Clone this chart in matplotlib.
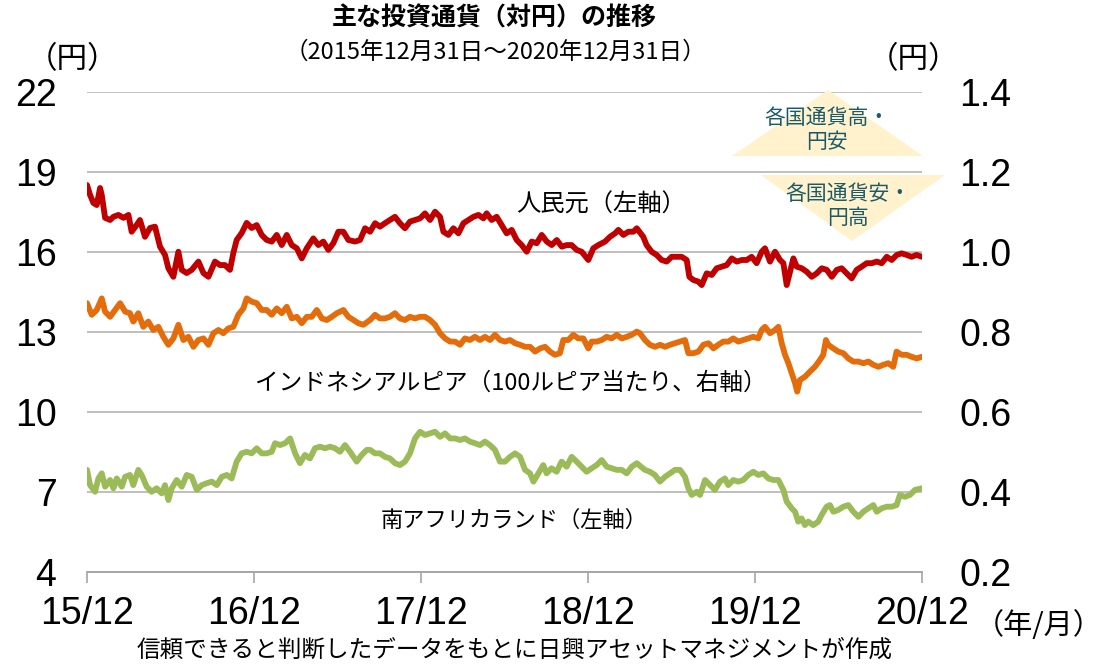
import matplotlib
matplotlib.use("Agg")
import matplotlib.pyplot as plt
from matplotlib.patches import Polygon

plt.rcParams['font.family'] = ['Liberation Sans', 'Noto Sans CJK JP', 'DejaVu Sans']
JP = ['Noto Sans CJK JP', 'DejaVu Sans']

# years elapsed since 2015/12/31
t_cny = [0.000, 0.018, 0.038, 0.058, 0.078, 0.088, 0.108, 0.138, 0.158, 0.188, 0.218, 0.248, 0.267,
         0.297, 0.317, 0.347, 0.377, 0.407, 0.437, 0.467, 0.487, 0.517, 0.547, 0.567, 0.597, 0.627,
         0.667, 0.697, 0.727, 0.766, 0.796, 0.826, 0.856, 0.876, 0.896, 0.926, 0.956, 0.986, 1.016,
         1.046, 1.076, 1.106, 1.136, 1.166, 1.196, 1.226, 1.256, 1.286, 1.316, 1.355, 1.385, 1.415,
         1.445, 1.475, 1.505, 1.535, 1.565, 1.605, 1.635, 1.665, 1.695, 1.725, 1.754, 1.784, 1.814,
         1.844, 1.874, 1.904, 1.934, 1.964, 1.994, 2.024, 2.054, 2.084, 2.114, 2.134, 2.164, 2.194,
         2.224, 2.254, 2.284, 2.314, 2.344, 2.374, 2.393, 2.423, 2.453, 2.483, 2.513, 2.543, 2.573,
         2.603, 2.633, 2.663, 2.693, 2.723, 2.753, 2.783, 2.813, 2.843, 2.873, 2.902, 2.932, 2.962,
         3.002, 3.032, 3.062, 3.102, 3.132, 3.162, 3.182, 3.212, 3.242, 3.272, 3.292, 3.331, 3.351,
         3.381, 3.411, 3.441, 3.471, 3.501, 3.531, 3.561, 3.591, 3.607, 3.631, 3.661, 3.681, 3.711,
         3.741, 3.771, 3.801, 3.831, 3.861, 3.891, 3.921, 3.951, 3.980, 4.010, 4.040, 4.060, 4.090,
         4.120, 4.150, 4.170, 4.190, 4.210, 4.230, 4.250, 4.280, 4.310, 4.340, 4.370, 4.400, 4.430,
         4.460, 4.490, 4.519, 4.549, 4.579, 4.609, 4.639, 4.669, 4.699, 4.729, 4.759, 4.789, 4.819,
         4.849, 4.878, 4.908, 4.938, 4.968, 5.000]
cny = [18.51, 18.14, 17.84, 17.76, 18.40, 18.14, 17.28, 17.20, 17.32, 17.39, 17.28, 17.39, 16.76,
       17.01, 17.20, 16.57, 16.90, 16.95, 16.20, 15.89, 15.39, 15.07, 16.01, 15.33, 15.21, 15.33,
       15.64, 15.21, 15.07, 15.64, 15.51, 15.51, 15.33, 15.96, 16.45, 16.71, 17.09, 16.90, 17.01,
       16.64, 16.45, 16.39, 16.64, 16.26, 16.64, 16.26, 16.14, 15.76, 16.14, 16.51, 16.26, 16.39,
       16.08, 16.33, 16.76, 16.76, 16.45, 16.39, 16.45, 16.89, 16.76, 17.08, 16.95, 17.08, 17.20,
       17.32, 17.08, 16.89, 17.14, 17.20, 17.26, 17.45, 17.20, 17.51, 17.32, 16.76, 16.64, 16.89,
       16.70, 17.08, 17.20, 17.32, 17.39, 17.26, 17.45, 17.20, 17.32, 17.01, 16.70, 16.83, 16.45,
       16.26, 16.01, 16.39, 16.33, 16.64, 16.39, 16.26, 16.45, 16.20, 16.26, 16.26, 16.08, 16.01,
       15.70, 16.14, 16.26, 16.39, 16.57, 16.70, 16.83, 16.64, 16.76, 16.76, 16.89, 16.57, 16.26,
       16.01, 15.89, 15.70, 15.64, 15.82, 15.82, 15.82, 15.70, 15.07, 14.95, 14.89, 14.76, 15.20,
       15.14, 15.39, 15.45, 15.51, 15.76, 15.64, 15.70, 15.70, 15.82, 15.58, 16.01, 16.14, 15.64,
       16.01, 15.70, 15.58, 14.76, 15.26, 15.76, 15.45, 15.39, 15.26, 15.07, 15.20, 15.39, 15.33,
       15.07, 15.33, 15.39, 15.20, 15.01, 15.33, 15.45, 15.58, 15.58, 15.64, 15.58, 15.82, 15.70,
       15.89, 15.95, 15.89, 15.82, 15.89, 15.82]

t_idr = [0.000, 0.028, 0.058, 0.088, 0.108, 0.138, 0.168, 0.198, 0.228, 0.257, 0.277, 0.307, 0.337,
         0.367, 0.397, 0.427, 0.457, 0.487, 0.517, 0.547, 0.577, 0.607, 0.637, 0.667, 0.697, 0.727,
         0.757, 0.787, 0.816, 0.846, 0.876, 0.906, 0.936, 0.956, 0.986, 1.016, 1.046, 1.076, 1.106,
         1.136, 1.166, 1.196, 1.226, 1.256, 1.286, 1.316, 1.346, 1.376, 1.406, 1.436, 1.466, 1.496,
         1.535, 1.565, 1.595, 1.625, 1.655, 1.695, 1.725, 1.754, 1.784, 1.814, 1.844, 1.874, 1.904,
         1.934, 1.964, 1.994, 2.024, 2.054, 2.084, 2.114, 2.144, 2.174, 2.204, 2.234, 2.263, 2.293,
         2.323, 2.353, 2.383, 2.413, 2.443, 2.473, 2.503, 2.533, 2.563, 2.593, 2.623, 2.653, 2.683,
         2.713, 2.743, 2.772, 2.802, 2.832, 2.852, 2.882, 2.912, 2.942, 2.972, 3.002, 3.022, 3.052,
         3.082, 3.112, 3.142, 3.172, 3.202, 3.232, 3.262, 3.292, 3.311, 3.341, 3.371, 3.401, 3.431,
         3.461, 3.491, 3.521, 3.551, 3.581, 3.601, 3.631, 3.661, 3.691, 3.721, 3.751, 3.780, 3.810,
         3.840, 3.870, 3.900, 3.930, 3.960, 3.990, 4.020, 4.040, 4.060, 4.090, 4.120, 4.140, 4.160,
         4.180, 4.200, 4.220, 4.240, 4.253, 4.269, 4.299, 4.329, 4.359, 4.389, 4.409, 4.425, 4.439,
         4.469, 4.499, 4.529, 4.559, 4.589, 4.619, 4.649, 4.679, 4.709, 4.739, 4.768, 4.798, 4.828,
         4.848, 4.878, 4.908, 4.938, 4.968, 5.000]
idr = [0.872, 0.843, 0.855, 0.884, 0.851, 0.838, 0.855, 0.872, 0.851, 0.847, 0.826, 0.847, 0.813,
       0.826, 0.805, 0.813, 0.788, 0.768, 0.784, 0.818, 0.780, 0.788, 0.763, 0.780, 0.784, 0.768,
       0.797, 0.805, 0.797, 0.809, 0.813, 0.843, 0.859, 0.884, 0.876, 0.872, 0.855, 0.855, 0.843,
       0.859, 0.847, 0.863, 0.834, 0.838, 0.822, 0.838, 0.838, 0.855, 0.834, 0.830, 0.838, 0.847,
       0.855, 0.838, 0.830, 0.822, 0.818, 0.830, 0.843, 0.834, 0.834, 0.838, 0.847, 0.834, 0.830,
       0.838, 0.834, 0.838, 0.838, 0.830, 0.818, 0.797, 0.784, 0.776, 0.776, 0.768, 0.784, 0.780,
       0.788, 0.780, 0.788, 0.780, 0.793, 0.780, 0.776, 0.780, 0.772, 0.768, 0.763, 0.763, 0.751,
       0.759, 0.763, 0.751, 0.743, 0.747, 0.780, 0.780, 0.793, 0.784, 0.784, 0.759, 0.776, 0.776,
       0.780, 0.788, 0.784, 0.793, 0.784, 0.788, 0.793, 0.801, 0.797, 0.780, 0.768, 0.763, 0.768,
       0.763, 0.768, 0.772, 0.776, 0.780, 0.747, 0.747, 0.751, 0.768, 0.772, 0.759, 0.768, 0.776,
       0.776, 0.784, 0.776, 0.780, 0.784, 0.788, 0.784, 0.805, 0.813, 0.797, 0.805, 0.813, 0.772,
       0.743, 0.722, 0.697, 0.672, 0.651, 0.680, 0.688, 0.701, 0.713, 0.730, 0.743, 0.780, 0.768,
       0.759, 0.751, 0.747, 0.734, 0.726, 0.726, 0.722, 0.726, 0.718, 0.713, 0.718, 0.722, 0.713,
       0.751, 0.743, 0.743, 0.738, 0.734, 0.738]

t_zar = [0.000, 0.018, 0.048, 0.068, 0.088, 0.108, 0.138, 0.158, 0.178, 0.208, 0.228, 0.257, 0.277,
         0.307, 0.327, 0.357, 0.387, 0.417, 0.447, 0.467, 0.487, 0.507, 0.537, 0.567, 0.597, 0.627,
         0.657, 0.687, 0.717, 0.747, 0.777, 0.807, 0.837, 0.866, 0.896, 0.926, 0.956, 0.986, 1.016,
         1.046, 1.076, 1.106, 1.126, 1.156, 1.186, 1.216, 1.246, 1.275, 1.305, 1.335, 1.365, 1.395,
         1.425, 1.455, 1.485, 1.515, 1.545, 1.575, 1.615, 1.645, 1.675, 1.695, 1.725, 1.754, 1.784,
         1.814, 1.844, 1.874, 1.904, 1.934, 1.964, 1.994, 2.024, 2.054, 2.084, 2.114, 2.144, 2.174,
         2.204, 2.234, 2.263, 2.293, 2.323, 2.353, 2.383, 2.413, 2.443, 2.473, 2.503, 2.533, 2.563,
         2.593, 2.623, 2.653, 2.673, 2.703, 2.732, 2.752, 2.782, 2.812, 2.842, 2.872, 2.902, 2.932,
         2.962, 2.992, 3.022, 3.052, 3.082, 3.112, 3.142, 3.172, 3.202, 3.232, 3.262, 3.292, 3.341,
         3.371, 3.401, 3.431, 3.461, 3.491, 3.521, 3.551, 3.581, 3.601, 3.621, 3.651, 3.671, 3.701,
         3.731, 3.760, 3.790, 3.820, 3.840, 3.870, 3.900, 3.930, 3.960, 3.990, 4.020, 4.050, 4.080,
         4.110, 4.140, 4.170, 4.190, 4.220, 4.240, 4.259, 4.279, 4.299, 4.319, 4.349, 4.379, 4.399,
         4.429, 4.449, 4.469, 4.499, 4.529, 4.559, 4.589, 4.619, 4.649, 4.679, 4.709, 4.729, 4.759,
         4.789, 4.819, 4.848, 4.868, 4.898, 4.928, 4.958, 5.000]
zar = [7.83, 7.26, 7.01, 7.51, 7.70, 7.20, 7.45, 7.14, 7.51, 7.20, 7.57, 7.64, 7.26,
       7.83, 7.64, 7.20, 7.01, 7.14, 6.95, 7.26, 6.70, 7.14, 7.45, 7.20, 7.64, 7.57,
       7.08, 7.26, 7.33, 7.39, 7.26, 7.57, 7.64, 7.51, 8.14, 8.45, 8.51, 8.45, 8.64,
       8.45, 8.45, 8.51, 8.83, 8.76, 8.83, 9.01, 8.45, 8.08, 8.39, 8.26, 8.64, 8.70,
       8.64, 8.70, 8.64, 8.51, 8.76, 8.51, 8.14, 8.39, 8.58, 8.58, 8.45, 8.45, 8.32,
       8.26, 8.08, 8.01, 8.14, 8.45, 9.01, 9.26, 9.14, 9.20, 9.26, 9.07, 9.20, 9.01,
       9.01, 8.95, 9.01, 8.89, 8.83, 8.76, 8.89, 8.76, 8.58, 8.14, 8.14, 8.32, 8.45,
       8.32, 7.83, 7.70, 7.39, 7.70, 8.01, 7.70, 7.89, 7.76, 8.14, 7.95, 8.32, 8.14,
       7.95, 7.76, 7.89, 8.01, 8.20, 7.95, 7.89, 7.83, 7.83, 7.70, 7.95, 8.08, 7.83,
       7.76, 7.64, 7.39, 7.57, 7.70, 7.83, 7.83, 7.57, 7.14, 6.89, 7.01, 6.89, 7.45,
       7.26, 7.08, 7.39, 7.51, 7.26, 7.45, 7.39, 7.45, 7.64, 7.76, 7.64, 7.70, 7.51,
       7.45, 7.45, 7.08, 6.64, 6.39, 6.26, 5.89, 6.01, 5.76, 5.89, 5.76, 5.89, 6.14,
       6.45, 6.51, 6.26, 6.33, 6.45, 6.51, 6.26, 6.07, 6.26, 6.39, 6.51, 6.26, 6.39,
       6.45, 6.45, 6.51, 6.89, 6.82, 6.89, 7.08, 7.14]

year_ticks = [0, 1, 2, 3, 4, 5]
year_labels = ['15/12', '16/12', '17/12', '18/12', '19/12', '20/12']
left_ticks = [4, 7, 10, 13, 16, 19, 22]
right_ticks = [0.2, 0.4, 0.6, 0.8, 1.0, 1.2, 1.4]

fig = plt.figure(figsize=(11.06, 6.66), dpi=100)
ax = fig.add_axes([0.0787, 0.1411, 0.7549, 0.7208])
ax2 = ax.twinx()

style = dict(lw=4.2, solid_joinstyle='round', solid_capstyle='round', zorder=3)
ax.plot(t_cny, cny, color='#C00000', **style)
ax.plot(t_zar, zar, color='#9BBB59', **style)
ax2.plot(t_idr, idr, color='#E46C0A', **style)

ax.set_xlim(0, 5)
ax.set_ylim(4, 22)
ax2.set_ylim(0.2, 1.4)
ax.set_yticks(left_ticks)
ax.set_yticklabels([str(v) for v in left_ticks])
ax2.set_yticks(right_ticks)
ax2.set_yticklabels(['%.1f' % v for v in right_ticks])
ax.set_xticks(year_ticks)
ax.set_xticklabels(year_labels)

for a in (ax, ax2):
    for s in ('left', 'right', 'top'):
        a.spines[s].set_visible(False)
    a.spines['bottom'].set_color('#A6A6A6')
    a.spines['bottom'].set_linewidth(1.2)
ax.yaxis.grid(True, color='#BFBFBF', lw=1.4)
ax.set_axisbelow(True)
ax.tick_params(axis='y', length=0, pad=22, labelsize=27)
ax2.tick_params(axis='y', length=0, pad=27, labelsize=27)
ax.tick_params(axis='x', length=8, width=1.2, color='#A6A6A6', pad=9, labelsize=27)

jp = dict(family=JP, color='black')
fig.text(0.447, 0.972, '主な投資通貨（対円）の推移', ha='center', va='center', fontsize=18, weight='bold', **jp)
fig.text(0.448, 0.922, '（2015年12月31日～2020年12月31日）', ha='center', va='center', fontsize=17, **jp)
fig.text(0.066, 0.910, '（円）', ha='center', va='center', fontsize=22, **jp)
fig.text(0.826, 0.910, '（円）', ha='center', va='center', fontsize=22, **jp)
fig.text(0.939, 0.060, '（年/月）', ha='center', va='center', fontsize=21, **jp)
fig.text(0.465, 0.024, '信頼できると判断したデータをもとに日興アセットマネジメントが作成',
         ha='center', va='center', fontsize=17, **jp)

ax.text(0.543, 0.693, '人民元（左軸）', transform=fig.transFigure, ha='center', va='center', fontsize=17.5, **jp)
ax.text(0.462, 0.425, 'インドネシアルピア（100ルピア当たり、右軸）', transform=fig.transFigure,
        ha='center', va='center', fontsize=17, **jp)
ax.text(0.465, 0.219, '南アフリカランド（左軸）', transform=fig.transFigure, ha='center', va='center', fontsize=16, **jp)

# yen direction arrows
W, H = 1106.0, 666.0
up = [(828 / W, 1 - 90 / H), (732 / W, 1 - 156 / H), (923 / W, 1 - 156 / H)]
down = [(761 / W, 1 - 175 / H), (945 / W, 1 - 175 / H), (852 / W, 1 - 241 / H)]
for pts in (up, down):
    fig.patches.append(Polygon(pts, closed=True, transform=fig.transFigure,
                               facecolor='#FFF2CC', edgecolor='none', zorder=1))
fig.text(827 / W, 1 - 130 / H, '各国通貨高・\n円安', ha='center', va='center', fontsize=15,
         linespacing=1.1, family=JP, color='#1B5A6B')
fig.text(848 / W, 1 - 206 / H, '各国通貨安・\n円高', ha='center', va='center', fontsize=15,
         linespacing=1.1, family=JP, color='#1B5A6B')

fig.savefig('out.png', dpi=100)
